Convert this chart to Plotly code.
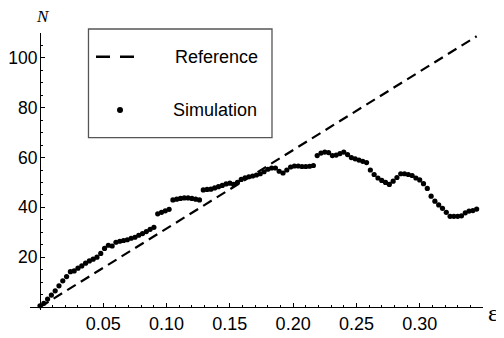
import plotly.graph_objects as go

# ---- data ----
eps_sim = [0.000, 0.003, 0.006, 0.009, 0.012, 0.015, 0.018, 0.021, 0.024, 0.027,
           0.030, 0.033, 0.036, 0.039, 0.042, 0.045, 0.048, 0.051, 0.054, 0.057,
           0.060, 0.063, 0.066, 0.069, 0.072, 0.075, 0.078, 0.081, 0.084, 0.087,
           0.090, 0.093, 0.096, 0.099, 0.102, 0.105, 0.108, 0.111, 0.114, 0.117,
           0.120, 0.123, 0.126, 0.129, 0.132, 0.135, 0.138, 0.141, 0.144, 0.147,
           0.150, 0.153, 0.156, 0.159, 0.162, 0.165, 0.168, 0.171, 0.174, 0.177,
           0.180, 0.183, 0.186, 0.189, 0.192, 0.195, 0.198, 0.201, 0.204, 0.207,
           0.210, 0.213, 0.216, 0.219, 0.222, 0.225, 0.228, 0.231, 0.234, 0.237,
           0.240, 0.243, 0.246, 0.249, 0.252, 0.255, 0.258, 0.261, 0.264, 0.267,
           0.270, 0.273, 0.276, 0.279, 0.282, 0.285, 0.288, 0.291, 0.294, 0.297,
           0.300, 0.303, 0.306, 0.309, 0.312, 0.315, 0.318, 0.321, 0.324, 0.327,
           0.330, 0.333, 0.336, 0.339, 0.342, 0.345]
n_sim = [0.5, 1.5, 3.2, 4.8, 6.5, 8.5, 10.5, 12.2, 14.2, 14.5,
         15.6, 16.5, 17.6, 18.5, 19.2, 20.0, 21.5, 23.5, 24.8, 24.5,
         26.0, 26.4, 26.7, 27.0, 27.6, 28.0, 28.8, 29.5, 30.3, 31.2,
         32.0, 37.4, 38.0, 38.6, 39.2, 43.0, 43.3, 43.6, 43.8, 43.8,
         43.6, 43.3, 43.0, 47.0, 47.2, 47.3, 47.8, 48.3, 48.8, 49.4,
         49.7, 49.2, 50.0, 51.2, 51.9, 52.3, 52.6, 53.0, 53.5, 54.3,
         55.3, 55.8, 55.8, 54.5, 53.8, 55.0, 56.2, 56.6, 56.6, 56.4,
         56.4, 56.5, 56.8, 60.8, 61.8, 62.2, 62.0, 60.8, 61.0, 61.6,
         62.2, 61.2, 60.0, 59.5, 59.0, 58.5, 58.0, 55.0, 53.2, 51.8,
         50.8, 50.0, 49.2, 50.5, 52.0, 53.5, 53.5, 53.2, 52.8, 51.8,
         51.0, 49.5, 47.6, 44.5, 42.5, 41.0, 39.6, 38.0, 36.4, 36.4,
         36.4, 36.6, 37.8, 38.5, 38.7, 39.3]

eps_ref = [0.0, 0.345]
n_ref = [0.0, 108.7]

x_ticks = [0.05, 0.10, 0.15, 0.20, 0.25, 0.30]
x_tick_text = ["0.05", "0.10", "0.15", "0.20", "0.25", "0.30"]
y_ticks = [20, 40, 60, 80, 100]
y_tick_text = ["20", "40", "60", "80", "100"]

legend_names = ["Reference", "Simulation"]

# ---- layout params ----
x_range = [-0.0079, 0.35]
y_range = [-1.2, 110.0]
font_main = "Liberation Sans, Arial, sans-serif"
font_serif = "Liberation Serif, Times New Roman, serif"
fs = 18

fig = go.Figure()
fig.add_trace(go.Scatter(x=eps_ref, y=n_ref, mode="lines",
                         line=dict(color="black", width=2.2, dash="10px,6px"),
                         showlegend=False, cliponaxis=False))
fig.add_trace(go.Scatter(x=eps_sim, y=n_sim, mode="markers",
                         marker=dict(color="black", size=5.2, line=dict(width=0)),
                         showlegend=False, cliponaxis=False))

ypos = (0 - x_range[0]) / (x_range[1] - x_range[0])
xpos = (0 - y_range[0]) / (y_range[1] - y_range[0])

# page body has an 8px default margin, so figure is 8px smaller than the window
fig.update_layout(
    width=496, height=330,
    margin=dict(l=22, r=21, t=25, b=28, autoexpand=False),
    showlegend=False,
    paper_bgcolor="white", plot_bgcolor="white",
    font=dict(family=font_main, size=fs, color="black"),
    xaxis=dict(range=x_range, showgrid=False, zeroline=False, automargin=False,
               showline=True, linecolor="black", linewidth=1,
               anchor="free", position=xpos,
               tickvals=x_ticks, ticktext=x_tick_text,
               ticks="inside", ticklen=4, tickwidth=1, tickcolor="black",
               minor=dict(tick0=0, dtick=0.01, ticks="inside", ticklen=2.5,
                          tickwidth=1, tickcolor="black"),
               tickfont=dict(size=fs, family=font_main)),
    yaxis=dict(range=y_range, showgrid=False, zeroline=False, automargin=False,
               showline=True, linecolor="black", linewidth=1,
               anchor="free", position=ypos,
               tickvals=y_ticks, ticktext=y_tick_text,
               ticks="inside", ticklen=4, tickwidth=1, tickcolor="black",
               ticklabelstandoff=-1,
               minor=dict(tick0=0, dtick=5, ticks="inside", ticklen=2.5,
                          tickwidth=1, tickcolor="black"),
               tickfont=dict(size=17.5, family=font_main)),
)

# manual legend (Mathematica style)
fig.add_shape(type="rect", xref="paper", yref="paper",
              x0=0.1291, x1=0.5342, y0=0.622, y1=1.0144,
              line=dict(color="#555555", width=1.3), fillcolor="white", layer="above")
fig.add_shape(type="line", xref="paper", yref="paper",
              x0=0.1457, x1=0.2296, y0=0.9144, y1=0.9144,
              line=dict(color="black", width=2.4, dash="14px,10px"), layer="above")
fig.add_shape(type="circle", xref="paper", yref="paper",
              xsizemode="pixel", ysizemode="pixel",
              xanchor=0.1987, yanchor=0.722, x0=-3, x1=3, y0=-3, y1=3,
              fillcolor="black", line=dict(width=0), layer="above")
fig.add_annotation(text=legend_names[0], xref="paper", yref="paper",
                   x=0.4106, y=0.9144, showarrow=False,
                   font=dict(size=fs, family=font_main), xanchor="center", yanchor="middle")
fig.add_annotation(text=legend_names[1], xref="paper", yref="paper",
                   x=0.4084, y=0.722, showarrow=False,
                   font=dict(size=fs, family=font_main), xanchor="center", yanchor="middle")

# axis labels
fig.add_annotation(text="<i>N</i>", xref="paper", yref="paper", x=0.0276, y=1.058,
                   showarrow=False, xanchor="center", yanchor="middle",
                   font=dict(size=17, family=font_serif))
fig.add_annotation(text="ε", xref="paper", yref="paper", x=1.022, y=-0.01,
                   showarrow=False, xanchor="center", yanchor="middle",
                   font=dict(size=24, family=font_serif))

fig.write_html("out.html")
